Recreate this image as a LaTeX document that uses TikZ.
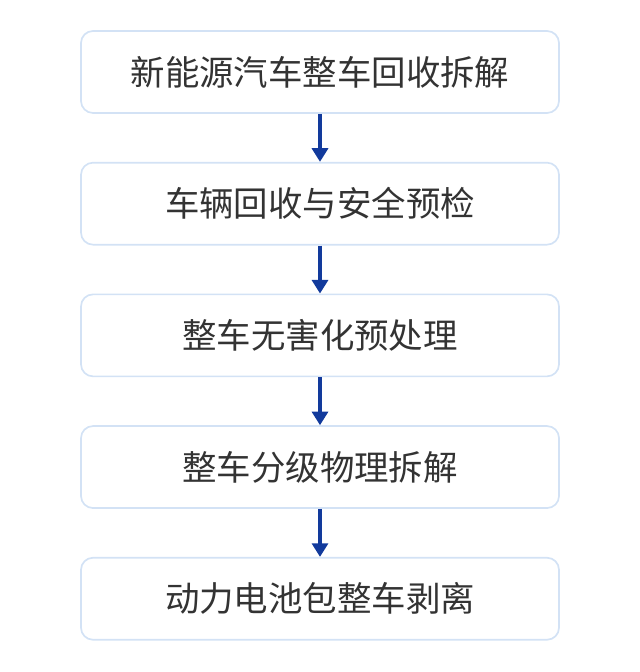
\documentclass[tikz,border=0pt]{standalone}
\usepackage{fontspec}
\newfontfamily\cjk{Noto Sans CJK SC}
\usetikzlibrary{positioning}
\usetikzlibrary{arrows.meta}
\definecolor{boxline}{HTML}{D3E2F5}
\definecolor{arrowblue}{HTML}{123A9C}
\definecolor{textgray}{HTML}{333333}
\begin{document}
\begin{tikzpicture}[
		stage/.style={draw=boxline, line width=1.2pt, rounded corners=0.3cm,
			minimum width=11.95cm, minimum height=2.05cm, inner sep=2pt,
			font=\cjk\fontsize{24.5}{28}\selectfont, text=textgray},
		flow/.style={-{Triangle[length=0.34cm, width=0.4cm]}, draw=arrowblue, line width=2.3pt}
		]
		
		\useasboundingbox (0,0) rectangle (16,16.8);
		
		\node[stage] (recycle) at (8,15.0) {新能源汽车整车回收拆解};
		\node[stage, below=1.2cm of recycle] (check) {车辆回收与安全预检};
		\node[stage, below=1.2cm of check] (pretreat) {整车无害化预处理};
		\node[stage, below=1.2cm of pretreat] (dismantle) {整车分级物理拆解};
		\node[stage, below=1.2cm of dismantle] (battery) {动力电池包整车剥离};
		
		\draw[flow] (recycle.south) -- (check.north);
		\draw[flow] (check.south) -- (pretreat.north);
		\draw[flow] (pretreat.south) -- (dismantle.north);
		\draw[flow] (dismantle.south) -- (battery.north);
	\end{tikzpicture}
\end{document}
